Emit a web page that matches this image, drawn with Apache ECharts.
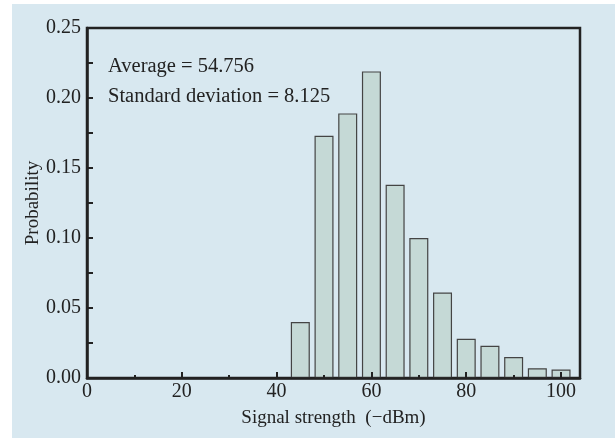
<!DOCTYPE html>
<html>
<head>
<meta charset="utf-8">
<script src="https://cdn.jsdelivr.net/npm/echarts@6/dist/echarts.min.js"></script>
<style>
  html, body { margin: 0; padding: 0; background: #ffffff; }
  #chart { width: 615px; height: 438px; }
</style>
</head>
<body>
<div id="chart"></div>
<script>
// bin centres (-dBm) and probability per bin
var binCenters = [45, 50, 55, 60, 65, 70, 75, 80, 85, 90, 95, 100];
var probability = [0.040, 0.173, 0.189, 0.219, 0.138, 0.100, 0.061, 0.028, 0.023, 0.015, 0.007, 0.006];
var notes = ["Average = 54.756", "Standard deviation = 8.125"];

var serif = "Liberation Serif";
var barData = binCenters.map(function (c, i) { return [c, probability[i]]; });

var myChart = echarts.init(document.getElementById("chart"));
var option = {
  backgroundColor: "#ffffff",
  animation: false,
  graphic: [
    { type: "rect", z: -10, shape: { x: 12, y: 4, width: 603, height: 434 }, style: { fill: "#d8e8f0" } },
    { type: "text", left: 108, top: 56, style: { text: notes[0], font: "20.5px " + serif, fill: "#222" } },
    { type: "text", left: 108, top: 86, style: { text: notes[1], font: "20.5px " + serif, fill: "#222" } }
  ],
  grid: {
    left: 87, right: 35, top: 28, bottom: 60,
    show: true, borderColor: "#222", borderWidth: 2.5, backgroundColor: "transparent"
  },
  xAxis: {
    type: "value",
    min: 0, max: 104, interval: 20,
    z: 5,
    name: "Signal strength  (\u2212dBm)",
    nameLocation: "middle",
    nameGap: 31,
    nameTextStyle: { fontFamily: serif, fontSize: 19, color: "#222" },
    axisLine: { show: true, onZero: false, lineStyle: { color: "#222", width: 2.5 } },
    axisTick: { show: true, inside: true, length: 6, lineStyle: { color: "#222", width: 2 } },
    minorTick: { show: true, splitNumber: 2, length: 3, lineStyle: { color: "#222", width: 2 } },
    axisLabel: {
      fontFamily: serif, fontSize: 20, color: "#222", margin: 4,
      formatter: function (v) { return v % 20 === 0 ? String(v) : ""; }
    },
    splitLine: { show: false }
  },
  yAxis: {
    type: "value",
    min: 0, max: 0.25, interval: 0.05,
    z: 5,
    name: "Probability",
    nameLocation: "middle",
    nameGap: 44,
    nameMoveOverlap: false,
    nameTextStyle: { fontFamily: serif, fontSize: 19, color: "#222" },
    axisLine: { show: true, lineStyle: { color: "#222", width: 2.5 } },
    axisTick: { show: true, inside: true, length: 6, lineStyle: { color: "#222", width: 2 } },
    minorTick: { show: true, splitNumber: 2, length: 6, lineStyle: { color: "#222", width: 2 } },
    axisLabel: {
      fontFamily: serif, fontSize: 20, color: "#222", margin: 6,
      formatter: function (v) { return v.toFixed(2); }
    },
    splitLine: { show: false }
  },
  series: [
    {
      type: "bar",
      data: barData,
      barWidth: 19,
      itemStyle: { color: "#c5d9d6", borderColor: "#444", borderWidth: 1.2 }
    }
  ]
};
myChart.setOption(option);
</script>
</body>
</html>
